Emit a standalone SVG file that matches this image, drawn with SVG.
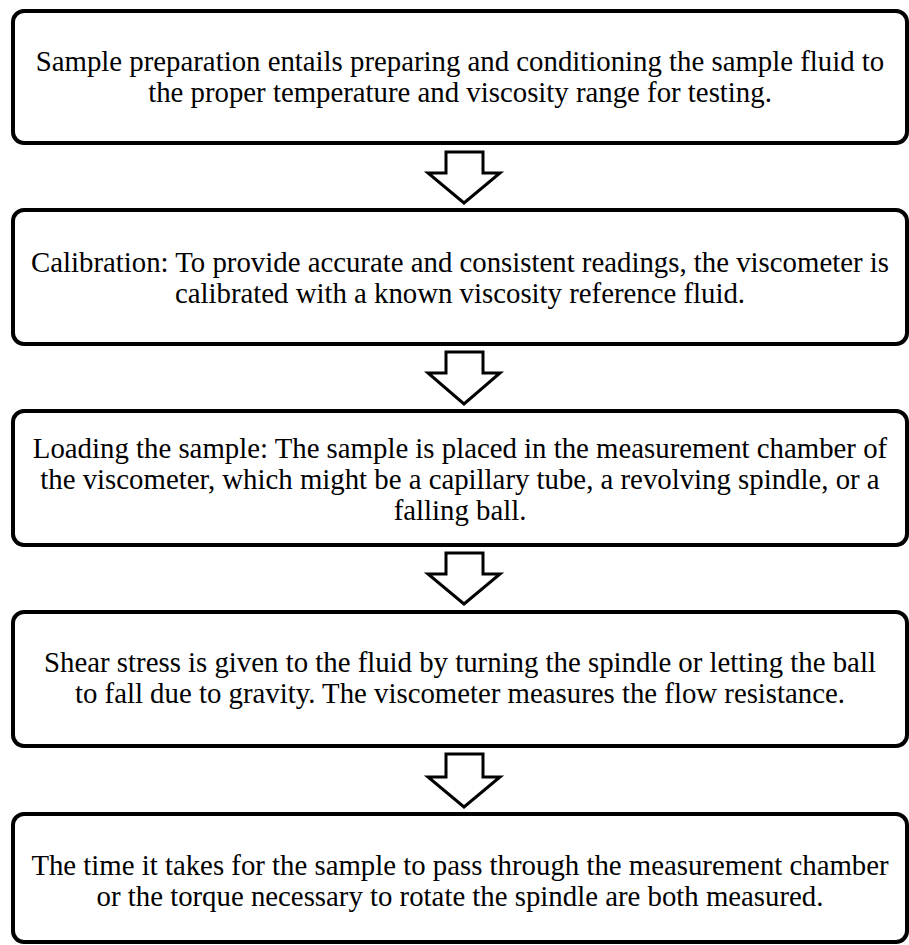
<svg xmlns="http://www.w3.org/2000/svg" width="909" height="945" viewBox="0 0 909 945">
<style>
.box{fill:#fff;stroke:#000;stroke-width:4}
.arr{fill:#fff;stroke:#000;stroke-width:3;stroke-linejoin:miter}
text{font-family:"Liberation Serif","Times New Roman",serif;font-size:28.8px;fill:#000;text-anchor:middle}
</style>
<rect width="909" height="945" fill="#fff"/>
<g id="connectors">
<path class="arr" d="M446,152 H483 V173 H500 L464,203 L428,173 H446 Z"/>
<path class="arr" d="M446,352 H483 V373 H500 L464,404 L428,373 H446 Z"/>
<path class="arr" d="M446,553 H483 V574 H500 L464,604 L428,574 H446 Z"/>
<path class="arr" d="M446,754 H483 V777 H500 L464,807 L428,777 H446 Z"/>
</g>
<g id="n1">
<rect class="box" x="13" y="11" width="894" height="132" rx="11"/>
<text x="460" y="71">Sample preparation entails preparing and conditioning the sample fluid to</text>
<text x="460" y="102">the proper temperature and viscosity range for testing.</text>
</g>
<g id="n2">
<rect class="box" x="13" y="210" width="894" height="134" rx="11"/>
<text x="460" y="272">Calibration: To provide accurate and consistent readings, the viscometer is</text>
<text x="460" y="303">calibrated with a known viscosity reference fluid.</text>
</g>
<g id="n3">
<rect class="box" x="13" y="411" width="894" height="134" rx="11"/>
<text x="460" y="458">Loading the sample: The sample is placed in the measurement chamber of</text>
<text x="460" y="489">the viscometer, which might be a capillary tube, a revolving spindle, or a</text>
<text x="460" y="520">falling ball.</text>
</g>
<g id="n4">
<rect class="box" x="13" y="612" width="894" height="134" rx="11"/>
<text x="460" y="672">Shear stress is given to the fluid by turning the spindle or letting the ball</text>
<text x="460" y="703">to fall due to gravity. The viscometer measures the flow resistance.</text>
</g>
<g id="n5">
<rect class="box" x="13" y="814" width="894" height="128" rx="11"/>
<text x="460" y="875">The time it takes for the sample to pass through the measurement chamber</text>
<text x="460" y="906">or the torque necessary to rotate the spindle are both measured.</text>
</g>
</svg>
